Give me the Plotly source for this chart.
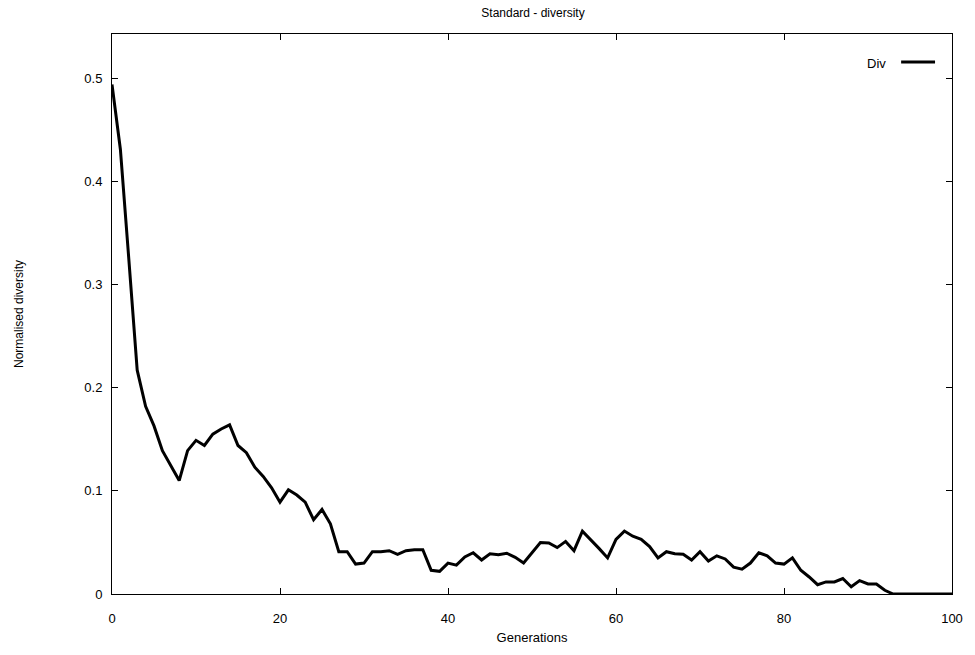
import plotly.graph_objects as go

generations = list(range(0, 101))
diversity = [
    0.494, 0.431, 0.325, 0.217, 0.182, 0.163, 0.139, 0.125, 0.110, 0.139,
    0.149, 0.144, 0.155, 0.160, 0.164, 0.144, 0.137, 0.123, 0.114, 0.103,
    0.089, 0.101, 0.096, 0.089, 0.072, 0.082, 0.068, 0.041, 0.041, 0.029,
    0.030, 0.041, 0.041, 0.042, 0.0385, 0.042, 0.043, 0.043, 0.023, 0.022,
    0.030, 0.028, 0.036, 0.040, 0.033, 0.039, 0.038, 0.0395, 0.0356, 0.030,
    0.040, 0.050, 0.0495, 0.045, 0.051, 0.042, 0.061, 0.053, 0.044, 0.035,
    0.053, 0.061, 0.056, 0.053, 0.046, 0.035, 0.041, 0.039, 0.0385, 0.033,
    0.041, 0.032, 0.037, 0.034, 0.026, 0.024, 0.030, 0.040, 0.037, 0.030,
    0.029, 0.035, 0.023, 0.0165, 0.009, 0.0117, 0.0117, 0.015, 0.007, 0.013,
    0.0097, 0.0097, 0.0036, 0.0, 0.0, 0.0, 0.0, 0.0, 0.0, 0.0, 0.0,
]
x_ticks = [0, 20, 40, 60, 80, 100]
y_ticks = [0, 0.1, 0.2, 0.3, 0.4, 0.5]
y_tick_labels = ["0", "0.1", "0.2", "0.3", "0.4", "0.5"]

FONT = "Liberation Sans, Arial, sans-serif"

W, H = 975, 655
L, R, T, B = 112, 21, 34, 61
PW, PH = W - L - R, H - T - B

fig = go.Figure()
fig.add_trace(go.Scatter(
    x=generations, y=diversity, mode="lines", name="Div",
    line=dict(color="black", width=3), showlegend=False,
))

axis_common = dict(
    showgrid=False, zeroline=False, showline=True, linecolor="black",
    linewidth=1, mirror="allticks", ticks="inside", ticklen=6,
    tickcolor="black", tickwidth=1,
    tickfont=dict(family=FONT, size=13, color="black"),
)

fig.update_layout(
    width=W, height=H,
    margin=dict(l=L, r=R, t=T, b=B),
    paper_bgcolor="white", plot_bgcolor="white",
    title=dict(text="Standard - diversity", x=(L + PW / 2) / W, xanchor="center",
               y=1 - 13 / H, yanchor="middle",
               font=dict(family=FONT, size=12, color="black")),
    xaxis=dict(range=[0, 100], tickvals=x_ticks, ticklabelstandoff=12,
               title=dict(text="Generations", standoff=8,
                          font=dict(family=FONT, size=13, color="black")),
               **axis_common),
    yaxis=dict(range=[0, 0.543], tickvals=y_ticks, ticktext=y_tick_labels,
               ticklabelstandoff=6,
               title=dict(text="Normalised diversity", standoff=58,
                          font=dict(family=FONT, size=12, color="black")),
               **axis_common),
    showlegend=False,
)

# Legend entry: text then line sample (gnuplot style)
fig.add_annotation(xref="paper", yref="paper", x=(890 - L) / PW, y=(H - B - 63) / PH,
                   text="Div", showarrow=False, xanchor="right", yanchor="middle",
                   font=dict(family=FONT, size=13, color="black"))
fig.add_shape(type="line", xref="paper", yref="paper",
              x0=(903 - L) / PW, x1=(937 - L) / PW,
              y0=(H - B - 62) / PH, y1=(H - B - 62) / PH,
              line=dict(color="black", width=3))

fig.write_html("out.html", config={"displayModeBar": False},
               post_script="document.body.style.margin='0';document.body.style.overflow='hidden';")
